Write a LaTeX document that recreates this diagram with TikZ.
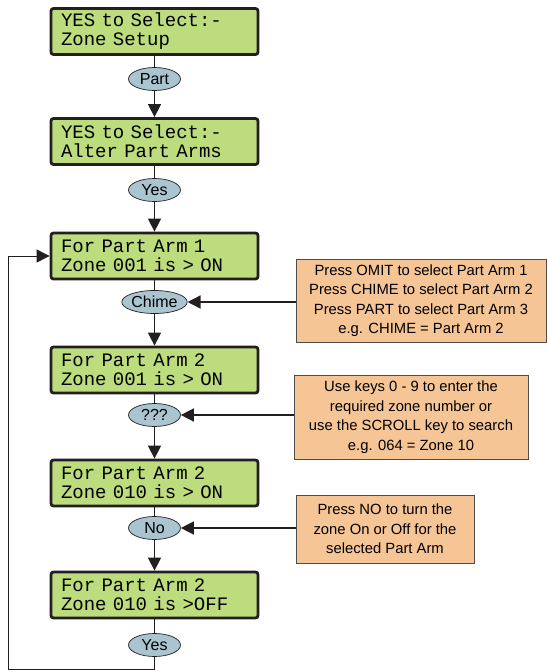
\documentclass[tikz,border=0pt]{standalone}
\usepackage{fontspec}
\setmainfont{Liberation Sans}
\newfontfamily\lcdfont{Liberation Mono}
\usetikzlibrary{arrows.meta,shapes.geometric}
\definecolor{lcdgreen}{RGB}{188,220,126}
\definecolor{notebg}{RGB}{246,197,150}
\definecolor{keyblue}{RGB}{170,196,208}
\definecolor{linedark}{RGB}{35,31,32}
\tikzset{
  lcd/.style={draw=linedark, line width=2.8pt, rounded corners=2.5pt, fill=lcdgreen,
    minimum width=207pt, minimum height=46pt, inner sep=0pt,
    text width=187pt, align=left, font=\lcdfont\fontsize{19}{19}\selectfont},
  key/.style={draw=linedark, line width=0.7pt, ellipse, fill=keyblue, minimum width=52pt,
    minimum height=23pt, inner sep=0pt, font=\fontsize{16}{16}\selectfont},
  note/.style={draw=linedark!80, line width=0.8pt, fill=notebg, align=center,
    inner sep=0pt, font=\fontsize{14.8}{19.5}\selectfont},
  conn/.style={draw=linedark, line width=1.5pt},
  arr/.style={conn, -{Triangle[length=13pt,width=13pt]}},
  fb/.style={draw=linedark, line width=0.9pt},
}
\begin{document}
\begin{tikzpicture}[x=1pt,y=-1pt]
\useasboundingbox (0,0) rectangle (547,672);
\node[lcd] (b1) at (154.5,31.5) {YES to Select:-\\Zone Setup};
\node[lcd] (b2) at (154.5,141.5) {YES to Select:-\\Alter Part Arms};
\node[lcd] (b3) at (154.5,256) {For Part Arm 1\\Zone 001 is > ON};
\node[lcd] (b4) at (154.5,370) {For Part Arm 2\\Zone 001 is > ON};
\node[lcd] (b5) at (154.5,483) {For Part Arm 2\\Zone 010 is > ON};
\node[lcd] (b6) at (154.5,595) {For Part Arm 2\\Zone 010 is >OFF};

\node[key] (k1) at (154.5,79) {Part};
\node[key] (k2) at (154.5,190) {Yes};
\node[key] (k3) at (154.5,302) {Chime};
\node[key] (k4) at (154.5,415) {???};
\node[key] (k5) at (154.5,528) {No};
\node[key] (k6) at (154.5,645) {Yes};

\node[note, minimum width=250pt, minimum height=83pt] (n1) at (421,300.5)
  {Press OMIT to select Part Arm 1\\Press CHIME to select Part Arm 2\\Press PART to select Part Arm 3\\e.g. CHIME = Part Arm 2};
\node[note, minimum width=234pt, minimum height=84pt] (n2) at (411,417)
  {Use keys 0 - 9 to enter the\\required zone number or\\use the SCROLL key to search\\e.g. 064 = Zone 10};
\node[note, minimum width=178pt, minimum height=68pt] (n3) at (385,529)
  {Press NO to turn the\\zone On or Off for the\\selected Part Arm};

\draw[conn] (b1) -- (k1);
\draw[arr] (k1) -- (b2);
\draw[conn] (b2) -- (k2);
\draw[arr] (k2) -- (b3);
\draw[conn] (b3) -- (k3);
\draw[arr] (k3) -- (b4);
\draw[conn] (b4) -- (k4);
\draw[arr] (k4) -- (b5);
\draw[conn] (b5) -- (k5);
\draw[arr] (k5) -- (b6);
\draw[conn] (b6) -- (k6);

\draw[arr] (n1.west |- k3) -- (k3.east);
\draw[arr] (n2.west |- k4) -- (k4.east);
\draw[arr] (n3.west |- k5) -- (k5.east);

\coordinate (c1) at (154.5,669);
\coordinate (c2) at (8,669);
\coordinate (c3) at (8,256);
\draw[fb] (k6.south) -- (c1) -- (c2) -- (c3);
\draw[fb, -{Triangle[length=13pt,width=13pt]}] (c3) -- (b3.west);
\end{tikzpicture}
\end{document}
